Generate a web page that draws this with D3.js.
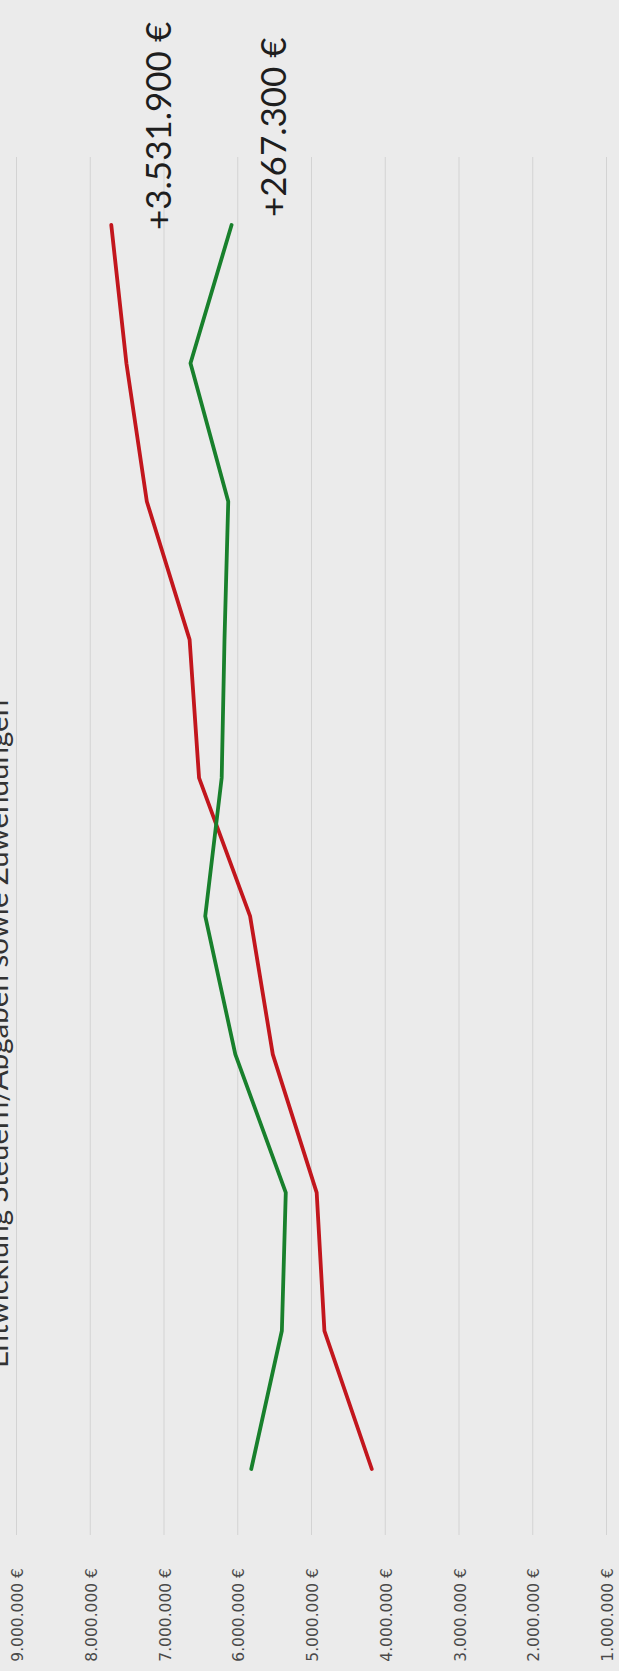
<!DOCTYPE html>
<html>
<head>
<meta charset="utf-8">
<script src="https://cdn.jsdelivr.net/npm/d3@7"></script>
<style>
  html, body { margin: 0; padding: 0; background: #ebebeb; }
  #chart-area { width: 619px; height: 1671px; overflow: hidden; }
</style>
</head>
<body>
<div id="chart-area"></div>
<script>
/*
*    Entwicklung Steuern/Abgaben sowie Zuwendungen (gedreht)
*/
var perioden = [1, 2, 3, 4, 5, 6, 7, 8, 9, 10];
var steuern = [4176000, 4818000, 4923000, 5518000, 5826000, 6518000, 6646000, 7226000, 7503000, 7708000];
var zuwendungen = [5810000, 5395000, 5342000, 6026000, 6434000, 6211000, 6173000, 6122000, 6634000, 6077000];
var ticks = [9000000, 8000000, 7000000, 6000000, 5000000, 4000000, 3000000, 2000000, 1000000];
var titel = "Entwicklung Steuern/Abgaben sowie Zuwendungen";
var labelSteuern = "+3.531.900 €";
var labelZuwendungen = "+267.300 €";

var mwidth = 619;
var mheight = 1671;

var de = d3.formatLocale({decimal: ",", thousands: ".", grouping: [3], currency: ["", " €"]});
var fmt = de.format(",.0f");

var svg = d3.select("#chart-area").append("svg")
	.attr("width", mwidth)
	.attr("height", mheight);

svg.append("rect")
	.attr("width", mwidth)
	.attr("height", mheight)
	.attr("fill", "#ebebeb");

// value axis runs horizontally (chart is turned by 90 degrees)
var x = d3.scaleLinear()
	.domain([9000000, 1000000])
	.range([16, 606]);

var y = d3.scalePoint()
	.domain(perioden)
	.range([1469, 225]);

var plotTop = 157, plotBottom = 1535;

// gridlines
svg.append("g")
	.attr("class", "grid")
	.selectAll("line")
	.data(ticks)
	.enter().append("line")
		.attr("x1", (d) => x(d) + 0.5)
		.attr("x2", (d) => x(d) + 0.5)
		.attr("y1", plotTop)
		.attr("y2", plotBottom)
		.attr("stroke", "#d3d3d3")
		.attr("stroke-width", 1);

// tick labels
svg.append("g")
	.attr("class", "axis")
	.selectAll("text")
	.data(ticks)
	.enter().append("text")
		.attr("transform", (d) => "translate(" + (x(d) + 7) + ",1568) rotate(-90)")
		.attr("text-anchor", "end")
		.attr("font-family", "DejaVu Sans")
		.attr("font-size", "15.5px")
		.attr("fill", "#4a4a4a")
		.text((d) => fmt(d) + " €");

// lines
var line = d3.line()
	.x((d) => x(d.v))
	.y((d) => y(d.p));

var serien = [
	{name: "steuern", color: "#c2161d", values: steuern},
	{name: "zuwendungen", color: "#18802c", values: zuwendungen}
];

svg.selectAll("path.serie")
	.data(serien)
	.enter().append("path")
		.attr("class", "serie")
		.attr("fill", "none")
		.attr("stroke", (d) => d.color)
		.attr("stroke-width", 3.8)
		.attr("stroke-linejoin", "round")
		.attr("stroke-linecap", "round")
		.attr("d", (d) => line(d.values.map((v, i) => ({p: perioden[i], v: v}))));

// title (cut off at the left edge like in the scan)
svg.append("text")
	.attr("transform", "translate(8,1368) rotate(-90)")
	.attr("font-family", "Lato")
	.attr("font-size", "29.5px")
	.attr("fill", "#333")
	.text(titel);

// change labels
svg.append("text")
	.attr("transform", "translate(171,230) rotate(-90)")
	.attr("font-family", "Lato")
	.attr("font-size", "35px")
	.attr("fill", "#1e1e1e")
	.text(labelSteuern);

svg.append("text")
	.attr("transform", "translate(286,217) rotate(-90)")
	.attr("font-family", "Lato")
	.attr("font-size", "35px")
	.attr("fill", "#1e1e1e")
	.text(labelZuwendungen);
</script>
</body>
</html>
